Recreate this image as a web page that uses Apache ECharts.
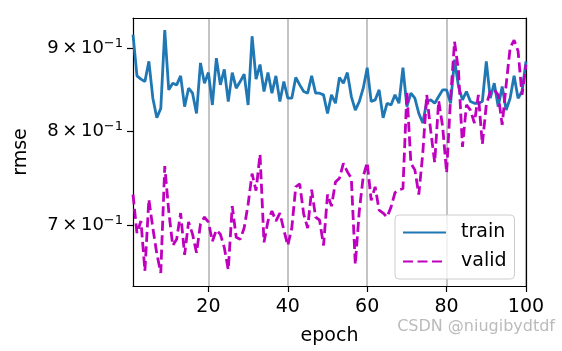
<!DOCTYPE html>
<html>
<head>
<meta charset="utf-8">
<script src="https://cdn.jsdelivr.net/npm/echarts@6/dist/echarts.min.js"></script>
<style>
  html, body { margin: 0; padding: 0; background: #fff; }
  #chart { width: 562px; height: 351px; }
</style>
</head>
<body>
<div id="chart"></div>
<script>
  // epoch 1..100
  const epochs = [];
  for (let i = 1; i <= 100; i++) epochs.push(i);

  const trainRmse = [
    0.917, 0.865, 0.861, 0.858, 0.883, 0.838, 0.815, 0.826, 0.923, 0.848,
    0.856, 0.854, 0.865, 0.828, 0.850, 0.844, 0.820, 0.881, 0.856, 0.869,
    0.830, 0.887, 0.854, 0.873, 0.834, 0.869, 0.850, 0.858, 0.867, 0.830,
    0.915, 0.861, 0.879, 0.846, 0.869, 0.844, 0.865, 0.834, 0.858, 0.838,
    0.838, 0.863, 0.854, 0.846, 0.844, 0.865, 0.844, 0.844, 0.842, 0.820,
    0.842, 0.832, 0.863, 0.856, 0.869, 0.840, 0.824, 0.834, 0.850, 0.875,
    0.834, 0.836, 0.848, 0.815, 0.832, 0.830, 0.842, 0.832, 0.875, 0.828,
    0.844, 0.838, 0.820, 0.809, 0.834, 0.836, 0.832, 0.840, 0.848, 0.848,
    0.832, 0.885, 0.852, 0.836, 0.846, 0.834, 0.832, 0.832, 0.834, 0.883,
    0.838, 0.856, 0.828, 0.852, 0.824, 0.838, 0.865, 0.838, 0.846, 0.883
  ];

  const validRmse = [
    0.731, 0.692, 0.704, 0.656, 0.726, 0.697, 0.672, 0.654, 0.761, 0.714,
    0.680, 0.686, 0.712, 0.671, 0.703, 0.691, 0.673, 0.701, 0.708, 0.703,
    0.684, 0.695, 0.691, 0.678, 0.657, 0.719, 0.688, 0.686, 0.697, 0.721,
    0.753, 0.735, 0.774, 0.683, 0.704, 0.714, 0.704, 0.712, 0.695, 0.680,
    0.697, 0.739, 0.742, 0.711, 0.697, 0.736, 0.708, 0.705, 0.680, 0.731,
    0.719, 0.744, 0.748, 0.764, 0.755, 0.748, 0.662, 0.714, 0.750, 0.765,
    0.725, 0.739, 0.715, 0.712, 0.708, 0.718, 0.733, 0.736, 0.737, 0.846,
    0.764, 0.757, 0.731, 0.775, 0.842, 0.800, 0.765, 0.835, 0.805, 0.754,
    0.838, 0.908, 0.871, 0.782, 0.830, 0.824, 0.809, 0.842, 0.785, 0.830,
    0.846, 0.848, 0.842, 0.807, 0.854, 0.900, 0.910, 0.896, 0.842, 0.879
  ];

  const xTicks = [20, 40, 60, 80, 100];
  const yTicks = [0.7, 0.8, 0.9];
  const xMin = 1, xMax = 100;
  const yMin = 0.642, yMax = 0.939;

  const font = 'DejaVu Sans';
  const spine = { lineStyle: { color: '#000', width: 1.2 } };
  let chart = echarts.init(document.getElementById('chart'));
  let option = {
    animation: false,
    textStyle: { fontFamily: font },
    grid: { left: 133, right: 36, top: 18, bottom: 62 },
    legend: {
      orient: 'vertical',
      left: 395, top: 215,
      itemWidth: 43, itemHeight: 19, itemGap: 10,
      backgroundColor: 'rgba(255,255,255,0.8)',
      borderColor: '#cccccc', borderWidth: 1, borderRadius: 4,
      padding: [8, 8, 8, 7],
      itemStyle: { opacity: 0 },
      textStyle: { fontSize: 19, color: '#000', fontFamily: font, padding: [0, 0, 0, 10] },
      data: ['train', 'valid']
    },
    xAxis: [
      {
        type: 'value',
        min: xMin, max: xMax,
        name: 'epoch', nameLocation: 'middle', nameGap: 41,
        nameTextStyle: { fontSize: 19, color: '#000', fontFamily: font },
        axisLine: spine,
        axisTick: { customValues: xTicks, length: 6, lineStyle: { color: '#000', width: 1.2 } },
        axisLabel: { customValues: xTicks, fontSize: 19, color: '#000', margin: 12, fontFamily: font },
        splitLine: { show: true, lineStyle: { color: '#b0b0b0', width: 1.5 } }
      },
      {
        // top spine
        type: 'value', position: 'top',
        min: xMin, max: xMax,
        axisLine: spine,
        axisTick: { show: false }, axisLabel: { show: false }, splitLine: { show: false }
      }
    ],
    yAxis: [
      {
        type: 'log',
        min: yMin, max: yMax,
        name: 'rmse', nameLocation: 'middle', nameGap: 102, nameRotate: 90,
        nameTextStyle: { fontSize: 19, color: '#000', fontFamily: font },
        axisLine: spine,
        axisTick: { customValues: yTicks, length: 6, lineStyle: { color: '#000', width: 1.2 } },
        axisLabel: {
          customValues: yTicks,
          margin: 10,
          formatter: function (v) {
            return '{a|' + Math.round(v * 10) + '\u2009×\u200910}{b|−1}';
          },
          rich: {
            a: { fontSize: 18, color: '#000', fontFamily: font },
            b: { fontSize: 13, color: '#000', fontFamily: font, padding: [0, 0, 9, 0] }
          }
        },
        splitLine: { show: false }
      },
      {
        // right spine
        type: 'log', position: 'right',
        min: yMin, max: yMax,
        axisLine: spine,
        axisTick: { show: false }, axisLabel: { show: false }, splitLine: { show: false }
      }
    ],
    series: [
      {
        name: 'train',
        type: 'line',
        data: epochs.map((e, i) => [e, trainRmse[i]]),
        showSymbol: false, symbol: 'none',
        color: '#1f77b4',
        lineStyle: { color: '#1f77b4', width: 2.8 }
      },
      {
        name: 'valid',
        type: 'line',
        data: epochs.map((e, i) => [e, validRmse[i]]),
        showSymbol: false, symbol: 'none',
        color: '#bf00bf',
        lineStyle: { color: '#bf00bf', width: 2.8, type: [10, 4.5] }
      }
    ],
    graphic: [
      {
        type: 'text', right: 7, top: 319,
        style: { text: 'CSDN @niugibydtdf', fontSize: 16, fill: '#bbbbbb', fontFamily: font }
      }
    ]
  };
  chart.setOption(option);
</script>
</body>
</html>
